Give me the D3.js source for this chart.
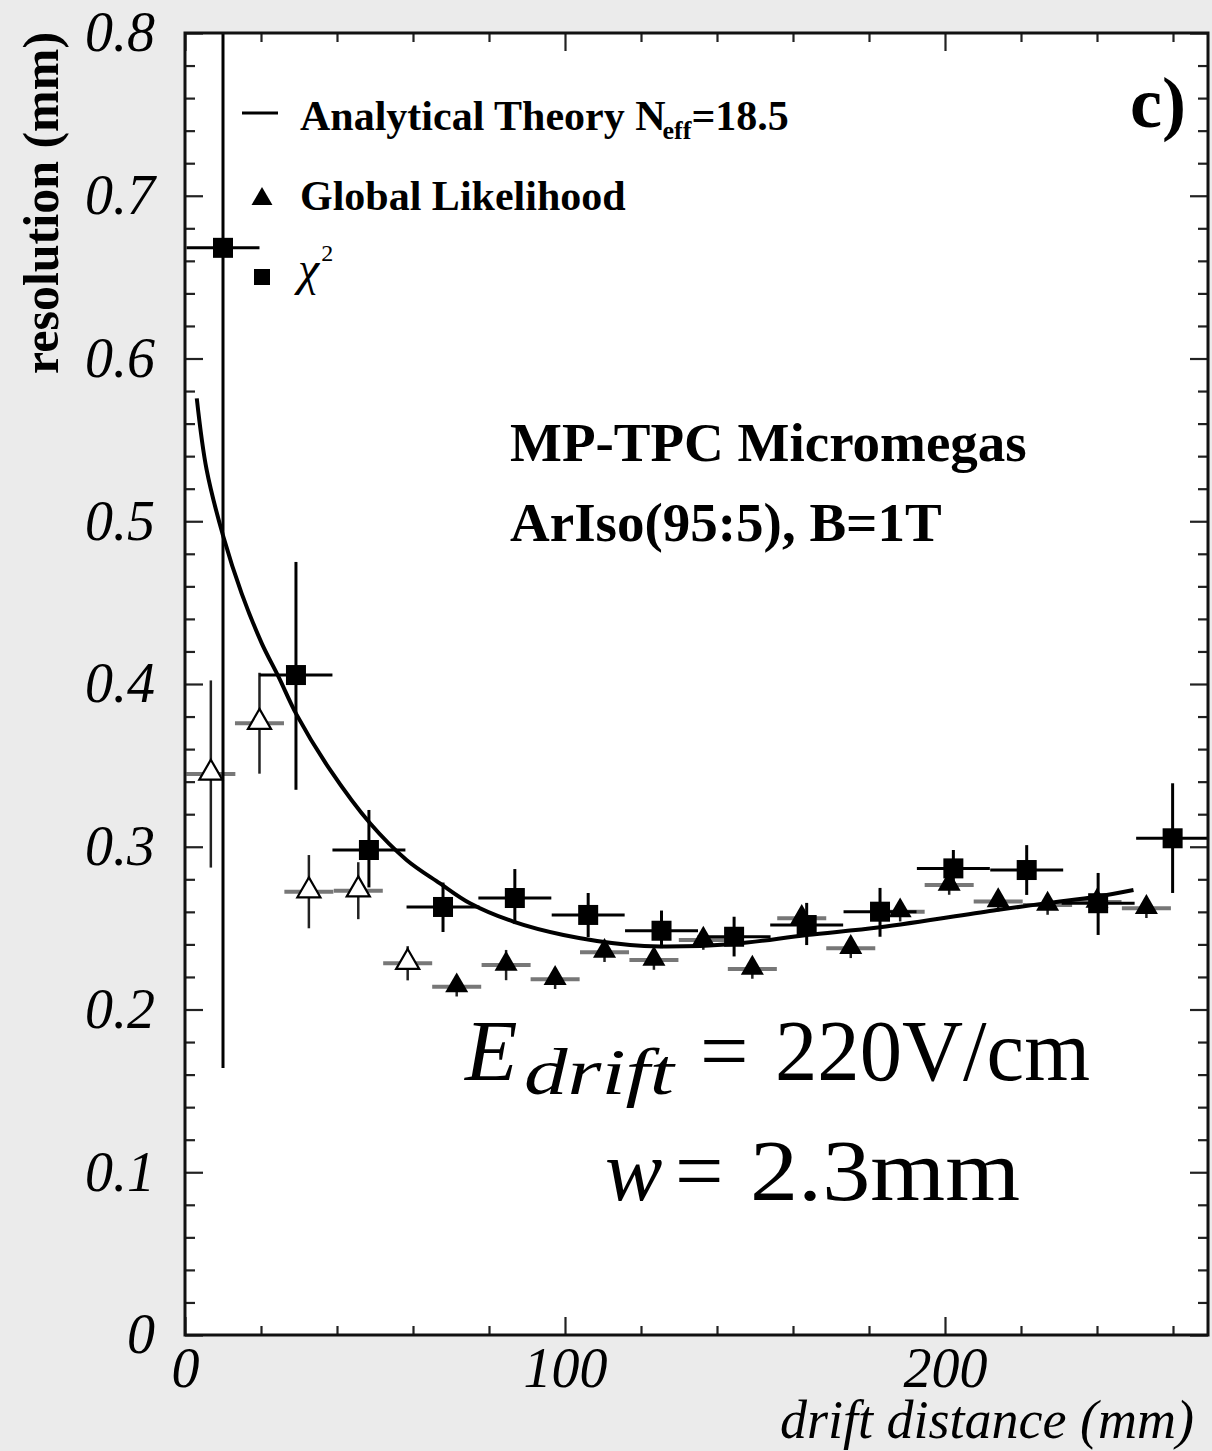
<!DOCTYPE html>
<html>
<head>
<meta charset="utf-8">
<script src="https://cdn.jsdelivr.net/npm/d3@7"></script>
<style>
  body { margin: 0; background: #ebebeb; }
  svg { display: block; }
  .serif { font-family: "Liberation Serif", "Times New Roman", serif; }
</style>
</head>
<body>
<div id="chart"></div>
<script>
// chi2 fit points (squares)
var chiX = [10, 29.2, 48.4, 67.9, 86.8, 106.1, 125.4, 144.5, 163.6, 182.9, 202.2, 221.5, 240.3, 259.9];
var chiY = [0.668, 0.4055, 0.298, 0.263, 0.2685, 0.2581, 0.2484, 0.2447, 0.2519, 0.2601, 0.2867, 0.2857, 0.2653, 0.3052];
var chiLo = [0.164, 0.335, 0.275, 0.2476, 0.2525, 0.2445, 0.2377, 0.2326, 0.2396, 0.2447, 0.2734, 0.2704, 0.2458, 0.2716];
var chiHi = [0.85, 0.475, 0.3226, 0.278, 0.2863, 0.2716, 0.2608, 0.257, 0.2655, 0.2747, 0.298, 0.301, 0.2839, 0.339];
var chiXErr = [9.6, 9.6, 9.6, 9.6, 9.6, 9.6, 9.6, 9.6, 9.6, 9.6, 9.6, 9.6, 9.6, 9.6];

// global likelihood points (triangles), first ones are open
var glX = [6.8, 19.6, 32.6, 45.6, 58.6, 71.5, 84.5, 97.4, 110.4, 123.4, 136.4, 149.3, 162.3, 175.2, 188.2, 201.1, 214, 227, 240, 253];
var glY = [0.3447, 0.3759, 0.2724, 0.273, 0.2284, 0.214, 0.2273, 0.2186, 0.2352, 0.2304, 0.2427, 0.2249, 0.256, 0.2376, 0.2601, 0.2765, 0.2663, 0.2642, 0.266, 0.2622];
var glYErr = [0.0575, 0.031, 0.0225, 0.0175, 0.0105, 0.006, 0.0093, 0.006, 0.006, 0.006, 0.006, 0.006, 0.006, 0.006, 0.006, 0.006, 0.006, 0.006, 0.006, 0.006];
var glXErr = 6.45;
var glOpen = [true, true, true, true, true, false, false, false, false, false, false, false, false, false, false, false, false, false, false, false];

// analytical theory curve
var theoryX = [3.1, 5.7, 10.1, 14.9, 20.2, 24.6, 29.4, 38.2, 48.7, 58.3, 67.1, 75, 86.4, 99.6, 117.1, 125, 144.5, 163.6, 182.9, 213.6, 226.7, 239.9, 249.6];
var theoryY = [0.5755, 0.5315, 0.4905, 0.4557, 0.425, 0.4045, 0.381, 0.3472, 0.3144, 0.2919, 0.2775, 0.2653, 0.254, 0.2458, 0.2396, 0.2387, 0.2403, 0.2458, 0.2505, 0.2611, 0.2653, 0.2693, 0.2734];

// axis ticks
var xMajor = [0, 100, 200];
var xMinor = [20, 40, 60, 80, 120, 140, 160, 180, 220, 240, 260];
var yMajor = [0, 0.1, 0.2, 0.3, 0.4, 0.5, 0.6, 0.7, 0.8];
var yMinor = d3.range(0, 41).map(function(i){ return i / 50; }).filter(function(v, i){ return i % 5 != 0; });
var xTickLabels = ["0", "100", "200"];
var yTickLabels = ["0", "0.1", "0.2", "0.3", "0.4", "0.5", "0.6", "0.7", "0.8"];

var width = 1212, height = 1451;
var frame = {left: 185, top: 33, right: 1208, bottom: 1335};

var svg = d3.select("#chart").append("svg")
    .attr("width", width)
    .attr("height", height)
    .attr("class", "serif");

var x = d3.scaleLinear().domain([0, (frame.right - frame.left) / 3.8]).range([frame.left, frame.right]);
var y = d3.scaleLinear().domain([0, 0.8]).range([frame.bottom, frame.top]);

svg.append("rect")
    .attr("x", frame.left)
    .attr("y", frame.top)
    .attr("width", frame.right - frame.left)
    .attr("height", frame.bottom - frame.top)
    .attr("fill", "white");

svg.append("clipPath").attr("id", "plotclip")
    .append("rect")
    .attr("x", frame.left)
    .attr("y", frame.top)
    .attr("width", frame.right - frame.left)
    .attr("height", frame.bottom - frame.top);

//axes: major + minor on all four sides, ticks pointing inward
function addAxis(axisFn, scale, values, size, transform, labels, pad){
    var ax = axisFn(scale).tickValues(values).tickSize(-size).tickPadding(pad || 0);
    if(labels){
        ax.tickFormat(function(d, i){ return labels[i]; });
    }else{
        ax.tickFormat("");
    }
    var g = svg.append("g")
        .attr("transform", transform)
        .call(ax);
    g.select(".domain").remove();
    g.selectAll("line").attr("stroke", "#222").attr("stroke-width", 2.2);
    g.selectAll("text")
        .attr("font-family", "'Liberation Serif', 'Times New Roman', serif")
        .attr("font-style", "italic")
        .attr("font-size", 56)
        .attr("fill", "black");
    return g;
}

addAxis(d3.axisBottom, x, xMajor, 18, "translate(0," + frame.bottom + ")", xTickLabels, 12);
addAxis(d3.axisBottom, x, xMinor, 9, "translate(0," + frame.bottom + ")");
addAxis(d3.axisTop, x, xMajor, 18, "translate(0," + frame.top + ")");
addAxis(d3.axisTop, x, xMinor, 9, "translate(0," + frame.top + ")");
addAxis(d3.axisLeft, y, yMajor, 18, "translate(" + frame.left + ",0)", yTickLabels, 30);
addAxis(d3.axisLeft, y, yMinor, 10, "translate(" + frame.left + ",0)");
addAxis(d3.axisRight, y, yMajor, 18, "translate(" + frame.right + ",0)");
addAxis(d3.axisRight, y, yMinor, 10, "translate(" + frame.right + ",0)");

var plot = svg.append("g").attr("clip-path", "url(#plotclip)");

// triangle error bars (gray horizontal, black vertical)
var gl = glX.map(function(d, i){ return {x: d, y: glY[i], e: glYErr[i], open: glOpen[i]}; });
var chi = chiX.map(function(d, i){ return {x: d, y: chiY[i], lo: chiLo[i], hi: chiHi[i], ex: chiXErr[i]}; });

plot.selectAll(".gl-xerr")
    .data(gl)
    .enter()
    .append("line")
        .attr("class", "gl-xerr")
        .attr("x1", function(d){ return x(d.x - glXErr); })
        .attr("x2", function(d){ return x(d.x + glXErr); })
        .attr("y1", function(d){ return y(d.y); })
        .attr("y2", function(d){ return y(d.y); })
        .attr("stroke", "#777")
        .attr("stroke-width", 4);

plot.selectAll(".gl-yerr")
    .data(gl)
    .enter()
    .append("line")
        .attr("class", "gl-yerr")
        .attr("x1", function(d){ return x(d.x); })
        .attr("x2", function(d){ return x(d.x); })
        .attr("y1", function(d){ return y(d.y + d.e); })
        .attr("y2", function(d){ return y(d.y - d.e); })
        .attr("stroke", "#222")
        .attr("stroke-width", 2.5);

var tri = d3.symbol().type(d3.symbolTriangle).size(230);

plot.selectAll(".gl-dot")
    .data(gl)
    .enter()
    .append("path")
        .attr("class", "gl-dot")
        .attr("d", tri)
        .attr("transform", function(d){ return "translate(" + x(d.x) + "," + (y(d.y) - 1) + ")"; })
        .attr("fill", function(d){ return d.open ? "white" : "black"; })
        .attr("stroke", "black")
        .attr("stroke-width", function(d){ return d.open ? 2.2 : 0; });

// chi2 squares with error bars
plot.selectAll(".chi-xerr")
    .data(chi)
    .enter()
    .append("line")
        .attr("x1", function(d){ return x(d.x - d.ex); })
        .attr("x2", function(d){ return x(d.x + d.ex); })
        .attr("y1", function(d){ return y(d.y); })
        .attr("y2", function(d){ return y(d.y); })
        .attr("stroke", "black")
        .attr("stroke-width", 3);

plot.selectAll(".chi-yerr")
    .data(chi)
    .enter()
    .append("line")
        .attr("x1", function(d){ return x(d.x); })
        .attr("x2", function(d){ return x(d.x); })
        .attr("y1", function(d){ return y(d.hi); })
        .attr("y2", function(d){ return y(d.lo); })
        .attr("stroke", "black")
        .attr("stroke-width", 3);

plot.selectAll(".chi-dot")
    .data(chi)
    .enter()
    .append("rect")
        .attr("x", function(d){ return x(d.x) - 10; })
        .attr("y", function(d){ return y(d.y) - 10; })
        .attr("width", 20)
        .attr("height", 20)
        .attr("fill", "black");

// theory curve
var theory = theoryX.map(function(d, i){ return [d, theoryY[i]]; });
plot.append("path")
    .datum(theory)
    .attr("fill", "none")
    .attr("stroke", "black")
    .attr("stroke-width", 4)
    .attr("d", d3.line()
        .x(function(d){ return x(d[0]); })
        .y(function(d){ return y(d[1]); })
        .curve(d3.curveCatmullRom));

// frame
svg.append("rect")
    .attr("x", frame.left)
    .attr("y", frame.top)
    .attr("width", frame.right - frame.left)
    .attr("height", frame.bottom - frame.top)
    .attr("fill", "none")
    .attr("stroke", "#111")
    .attr("stroke-width", 3);

// axis titles
svg.append("text")
    .attr("text-anchor", "end")
    .attr("x", 1194)
    .attr("y", 1438)
    .attr("font-style", "italic")
    .attr("font-size", 54)
    .text("drift distance (mm)");

svg.append("text")
    .attr("text-anchor", "middle")
    .attr("transform", "translate(58,203) rotate(-90)")
    .attr("font-weight", "bold")
    .attr("font-size", 50)
    .text("resolution (mm)");

// legend
var legend = svg.append("g").attr("font-weight", "bold").attr("font-size", 42);

legend.append("line")
    .attr("x1", 242).attr("x2", 278)
    .attr("y1", 113).attr("y2", 113)
    .attr("stroke", "black")
    .attr("stroke-width", 3);

var l1 = legend.append("text").attr("x", 300).attr("y", 130);
l1.append("tspan").text("Analytical Theory N");
l1.append("tspan").attr("font-size", 26).attr("dx", -3).attr("dy", 9).text("eff");
l1.append("tspan").attr("dy", -9).text("=18.5");

legend.append("path")
    .attr("d", d3.symbol().type(d3.symbolTriangle).size(190))
    .attr("transform", "translate(262,199)")
    .attr("fill", "black");

legend.append("text").attr("x", 300).attr("y", 210).text("Global Likelihood");

legend.append("rect")
    .attr("x", 254).attr("y", 269)
    .attr("width", 16).attr("height", 16)
    .attr("fill", "black");

var l3 = legend.append("text").attr("x", 298).attr("y", 285).attr("font-weight", "normal").attr("font-size", 48);
l3.append("tspan").attr("font-style", "italic").text("χ");
l3.append("tspan").attr("font-size", 24).attr("dx", 2).attr("dy", -24).text("2");

svg.append("text")
    .attr("text-anchor", "end")
    .attr("x", 1186)
    .attr("y", 127)
    .attr("font-weight", "bold")
    .attr("font-size", 72)
    .text("c)");

// annotations
svg.append("text")
    .attr("x", 510).attr("y", 461)
    .attr("font-weight", "bold").attr("font-size", 55)
    .text("MP-TPC Micromegas");

svg.append("text")
    .attr("x", 510).attr("y", 541)
    .attr("font-weight", "bold").attr("font-size", 55)
    .text("ArIso(95:5), B=1T");

// formula, pieces placed like the typeset original
var f1 = svg.append("text").attr("y", 1080).attr("font-size", 86);
f1.append("tspan").attr("x", 465).attr("font-style", "italic").text("E");
f1.append("tspan").attr("x", 524).attr("dy", 14).attr("font-style", "italic").attr("font-size", 66)
    .attr("textLength", 150).attr("lengthAdjust", "spacingAndGlyphs").text("drift");
f1.append("tspan").attr("x", 700).attr("dy", -14).text("=");
f1.append("tspan").attr("x", 775).attr("textLength", 315).attr("lengthAdjust", "spacingAndGlyphs").text("220V/cm");

var f2 = svg.append("text").attr("y", 1200).attr("font-size", 86);
f2.append("tspan").attr("x", 605).attr("font-style", "italic").text("w");
f2.append("tspan").attr("x", 675).text("=");
f2.append("tspan").attr("x", 750).attr("textLength", 270).attr("lengthAdjust", "spacingAndGlyphs").text("2.3mm");
</script>
</body>
</html>
